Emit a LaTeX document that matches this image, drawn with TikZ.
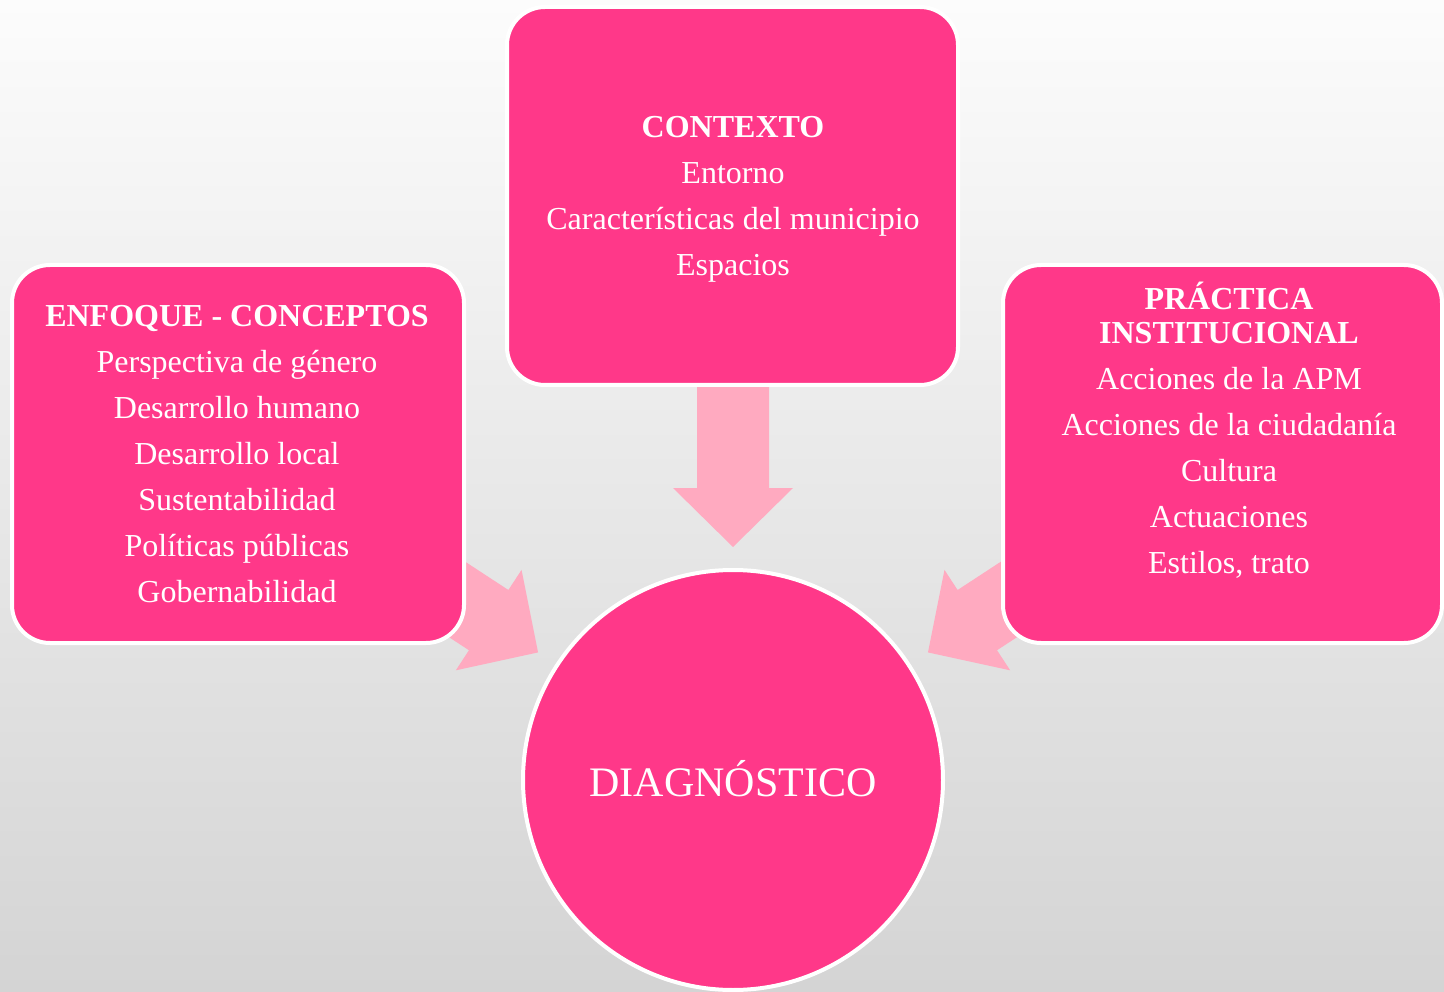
\documentclass[tikz,border=0pt]{standalone}
\usepackage{fontspec}
\setmainfont{Liberation Serif}
\definecolor{boxpink}{RGB}{255,56,137}
\definecolor{arrowpink}{RGB}{255,170,192}
\definecolor{bgtop}{RGB}{252,252,252}
\definecolor{bgbot}{RGB}{212,212,212}
\begin{document}
\begin{tikzpicture}[x=1pt,y=-1pt,
  box/.style={rectangle, rounded corners=38pt, fill=boxpink, draw=white, line width=4pt, inner sep=0pt},
  boxtext/.style={text=white, align=center, inner sep=0pt, font=\fontsize{32}{46}\selectfont},
  blockarrow/.style={fill=arrowpink, draw=none}]
\useasboundingbox (0,0) rectangle (1444,992);
\clip (0,0) rectangle (1444,992);
\fill[top color=bgtop, bottom color=bgbot] (0,0) rectangle (1444,992);

% central circle
\node[circle, fill=boxpink, draw=white, line width=4pt, minimum size=420pt, inner sep=0pt,
      text=white, font=\fontsize{42}{50}\selectfont] (diag) at (733,780) {\raisebox{3pt}{DIAGNÓSTICO}};

% block arrows pointing to the circle
\foreach \ang in {90,146.8,33.2}{
  \begin{scope}[shift={(diag.center)}, rotate=\ang, x={(1pt,0pt)}, y={(0pt,1pt)}]
    \fill[blockarrow] (233,0) -- (292,60) -- (292,36) -- (420,36) -- (420,-36) -- (292,-36) -- (292,-60) -- cycle;
  \end{scope}
}

% boxes
\node[box, minimum width=452pt, minimum height=378pt] (enf) at (238,454) {};
\node[box, minimum width=451pt, minimum height=378pt] (ctx) at (732.5,196) {};
\node[box, minimum width=439pt, minimum height=378pt] (pra) at (1222.5,454) {};

% texts
\node[boxtext] (enft) at (237,454) {\textbf{ENFOQUE - CONCEPTOS}\\Perspectiva de género\\Desarrollo humano\\Desarrollo local\\Sustentabilidad\\Políticas públicas\\Gobernabilidad};
\node[boxtext] (ctxt) at (733,199.5) {\textbf{CONTEXTO}\\Entorno\\Características del municipio\\Espacios};
\node[boxtext] (prat) at (1229,430.5) {\textbf{PRÁCTICA}\\[-12pt]\textbf{INSTITUCIONAL}\\Acciones de la APM\\Acciones de la ciudadanía\\Cultura\\Actuaciones\\Estilos, trato};
\end{tikzpicture}
\end{document}
